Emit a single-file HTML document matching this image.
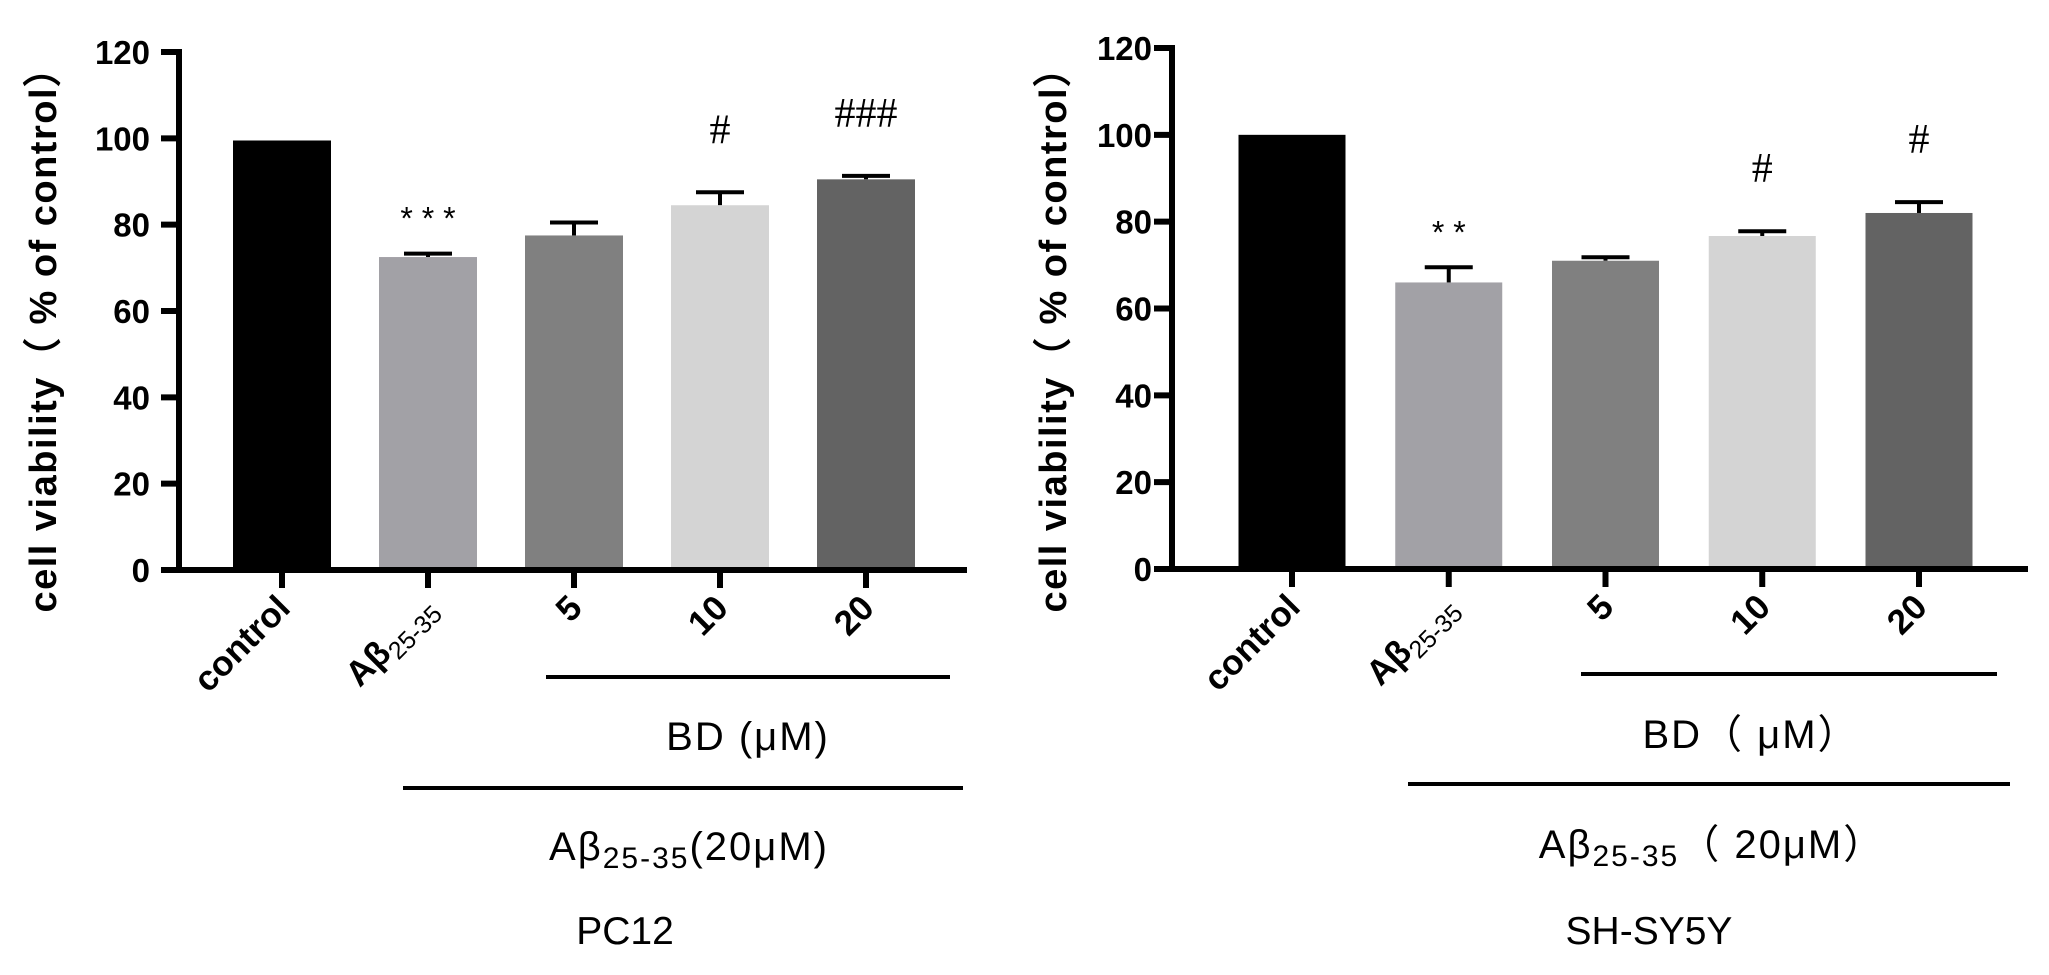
<!DOCTYPE html>
<html><head><meta charset="utf-8"><style>
body{margin:0;background:#fff}
svg{display:block;font-family:"Liberation Sans",Arial,sans-serif}
</style></head><body>
<svg id="chart" width="2049" height="975" viewBox="0 0 2049 975"></svg>
<script>
const categories = ["control","Aβ25-35","5","10","20"];
const colors = ["#000000","#a2a1a6","#808080","#d4d4d4","#636363"];
const yTicks = [0,20,40,60,80,100,120];
const pc12Values = [99.5,72.5,77.5,84.5,90.5];
const pc12Errors = [0,0.8,3.0,3.0,0.8];
const pc12Marks = ["","* * *","","#","###"];
const shValues = [100,66,71,76.7,82];
const shErrors = [0,3.5,0.8,1.1,2.5];
const shMarks = ["","* *","","#","#"];

const NS="http://www.w3.org/2000/svg";
const svg=document.getElementById('chart');
function mk(tag,attrs,parent){const e=document.createElementNS(NS,tag);for(const k in attrs)e.setAttribute(k,attrs[k]);(parent||svg).appendChild(e);return e;}

function panel(cfg){
  const g=mk('g',{});
  
  
  const y=v=>cfg.y0-(cfg.y0-cfg.y120)*v/120;
  const x=i=>cfg.c0+i*cfg.step;
  cfg.values.forEach((v,i)=>{
    if(cfg.errors[i]>0){
      const ey=y(v+cfg.errors[i]);
      const l=mk('line',{x1:x(i),x2:x(i),y1:y(v),y2:ey,stroke:'#000','stroke-width':4},g);
      
      
      const c=mk('line',{x1:x(i)-24,x2:x(i)+24,y1:ey,y2:ey,stroke:'#000','stroke-width':4},g);
      
      
    }
    const r=mk('rect',{x:x(i)-cfg.bw/2,y:y(v),width:cfg.bw,height:cfg.y0-y(v),fill:colors[i]},g);
    
    
    if(cfg.marks[i]){
      const star=cfg.marks[i][0]=='*';
      const t=mk('text',{x:x(i),y:y(v+cfg.errors[i])-(star?24:49),'text-anchor':'middle','font-size':star?32:42,'font-family':star?'Liberation Sans':'Liberation Serif'},g);
      t.textContent=cfg.marks[i];
      
      
    }
    const tk=mk('line',{x1:x(i),x2:x(i),y1:cfg.y0,y2:cfg.y0+18,stroke:'#000','stroke-width':6},g);
    
    
    const lx=x(i)+10, ly=cfg.y0+40;
    const t=mk('text',{x:lx,y:ly,'text-anchor':'end','font-size':35,'font-weight':'bold',transform:`rotate(-45 ${lx} ${ly})`},g);
    
    
    if(i==1){t.innerHTML='Aβ<tspan font-size="25" font-weight="normal" dy="8">25-35</tspan>';}
    else t.textContent=categories[i];
  });
  const ya=mk('line',{x1:cfg.ax,x2:cfg.ax,y1:cfg.y120-3,y2:cfg.y0+3,stroke:'#000','stroke-width':6},g);
  
  
  const xa=mk('line',{x1:cfg.xa0,x2:cfg.xa1,y1:cfg.y0,y2:cfg.y0,stroke:'#000','stroke-width':6},g);
  
  
  yTicks.forEach(v=>{
    const l=mk('line',{x1:cfg.ax-18,x2:cfg.ax,y1:y(v),y2:y(v),stroke:'#000','stroke-width':6},g);
    
    
    const t=mk('text',{x:cfg.lblR,y:y(v)+12,'text-anchor':'end','font-size':33,'font-weight':'bold'},g);
    t.textContent=v;
    
    
  });
  const tt=mk('text',{x:cfg.titleX,y:cfg.titleY,'text-anchor':'middle','font-size':38,'font-weight':'bold','letter-spacing':1.5,transform:`rotate(-90 ${cfg.titleX} ${cfg.titleY})`},g);
  tt.textContent='cell viability（ % of control）';
  
  
  const b1=mk('line',{x1:cfg.l1[0],x2:cfg.l1[1],y1:cfg.l1[2],y2:cfg.l1[2],stroke:'#000','stroke-width':4},g);
  
  
  const t1=mk('text',{x:cfg.t1[0],y:cfg.t1[1],'text-anchor':'middle','font-size':40,'letter-spacing':2},g);
  t1.textContent=cfg.bdText;
  
  
  const b2=mk('line',{x1:cfg.l2[0],x2:cfg.l2[1],y1:cfg.l2[2],y2:cfg.l2[2],stroke:'#000','stroke-width':4},g);
  
  
  const t2=mk('text',{x:cfg.t2[0],y:cfg.t2[1],'text-anchor':'middle','font-size':40,'letter-spacing':2},g);
  t2.innerHTML='Aβ<tspan font-size="30" dy="8">25-35</tspan><tspan dy="-8">'+cfg.abText+'</tspan>';
  
  
  const t3=mk('text',{x:cfg.t3[0],y:cfg.t3[1],'text-anchor':'middle','font-size':39},g);
  t3.textContent=cfg.cell;
  
  
}
panel({name:'pc12-panel',values:pc12Values,errors:pc12Errors,marks:pc12Marks,y0:570,y120:52,c0:282,step:146,bw:98,ax:179,xa0:167,xa1:967,lblR:150,titleX:56,titleY:330,
  l1:[546,950,677],t1:[748,750],bdText:'BD (μM)',l2:[403,963,788],t2:[689,860],abText:'(20μM)',t3:[625,944],cell:'PC12'});
panel({name:'shsy5y-panel',values:shValues,errors:shErrors,marks:shMarks,y0:569,y120:48,c0:1292,step:156.75,bw:107,ax:1172,xa0:1160,xa1:2028,lblR:1152,titleX:1066,titleY:330,
  l1:[1581,1997,674],t1:[1751,748],bdText:'BD（ μM）',l2:[1408,2010,784],t2:[1712,858],abText:'（ 20μM）',t3:[1649,944],cell:'SH-SY5Y'});
</script>
</body></html>
